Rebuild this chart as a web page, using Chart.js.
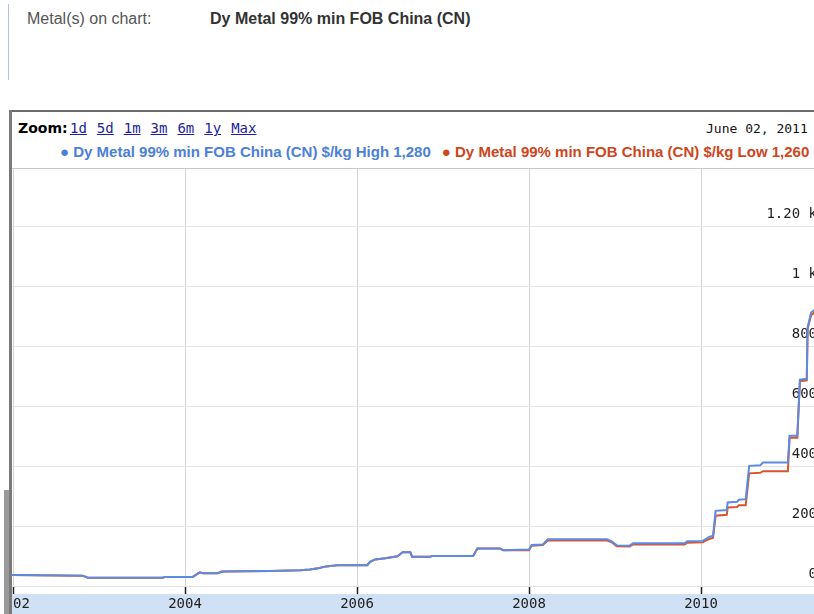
<!DOCTYPE html>
<html>
<head>
<meta charset="utf-8">
<script src="https://cdn.jsdelivr.net/npm/chart.js@4.4.1/dist/chart.umd.min.js"></script>
<style>
html, body { margin: 0; padding: 0; width: 814px; height: 614px; overflow: hidden; background: #fff; font-family: "Liberation Sans", Arial, sans-serif; }
.abs { position: absolute; white-space: nowrap; }
#sideLine { left: 8px; top: 4px; width: 1px; height: 76px; background: #b8c4da; }
#metalLabel { left: 27px; top: 10px; font-size: 16px; color: #555; }
#metalName { left: 210px; top: 10px; font-size: 16px; font-weight: bold; color: #333; }
#boxTop { left: 9px; top: 110px; width: 820px; height: 2px; background: #6a6a6a; }
#boxLeft { left: 9px; top: 110px; width: 3px; height: 504px; background: #7a7a7a; }
#scrollBit { left: 4px; top: 490px; width: 5px; height: 124px; background: #9a9a9a; }
#zoomLabel { left: 18px; top: 120px; font: bold 14px "DejaVu Sans", Verdana, sans-serif; color: #000; }
#zoomLinks { left: 70px; top: 120px; font: 14px "DejaVu Sans Mono", monospace; color: #1d1da0; }
#zoomLinks span { text-decoration: underline; margin-right: 10px; }
#dateLabel { left: 706px; top: 121px; font: 13px "DejaVu Sans Mono", monospace; color: #111; }
#legend { left: 60px; top: 143px; font-size: 15px; font-weight: bold; }
#legend .hi { color: #4b80da; }
#legend .lo { color: #cf4520; margin-left: 11px; }
#sep { left: 12px; top: 168px; width: 810px; height: 1px; background: #c8c8c8; }
#plot { position: absolute; left: 12px; top: 169px; }
</style>
</head>
<body>
<div class="abs" id="sideLine"></div>
<div class="abs" id="metalLabel">Metal(s) on chart:</div>
<div class="abs" id="metalName">Dy Metal 99% min FOB China (CN)</div>
<div class="abs" id="boxTop"></div>
<div class="abs" id="zoomLabel">Zoom:</div>
<div class="abs" id="zoomLinks"><span>1d</span><span>5d</span><span>1m</span><span>3m</span><span>6m</span><span>1y</span><span>Max</span></div>
<div class="abs" id="dateLabel">June 02, 2011</div>
<div class="abs" id="legend"><span class="hi">● Dy Metal 99% min FOB China (CN) $/kg High 1,280</span><span class="lo">● Dy Metal 99% min FOB China (CN) $/kg Low 1,260</span></div>
<div class="abs" id="sep"></div>
<canvas id="plot" width="810" height="445"></canvas>
<div class="abs" id="scrollBit"></div>
<div class="abs" id="boxLeft"></div>
<script>
// decimal years
const dates = [2001.98, 2002.55, 2002.81, 2002.87, 2003.74, 2003.77, 2004.09, 2004.17, 2004.21, 2004.38,
  2004.43, 2004.99, 2005.34, 2005.45, 2005.55, 2005.64, 2005.77, 2006.12, 2006.15, 2006.21,
  2006.33, 2006.47, 2006.53, 2006.62, 2006.64, 2006.85, 2006.88, 2007.35, 2007.40, 2007.66,
  2007.70, 2008.00, 2008.03, 2008.16, 2008.22, 2008.91, 2008.97, 2009.02, 2009.17, 2009.21,
  2009.81, 2009.84, 2010.02, 2010.06, 2010.09, 2010.14, 2010.17, 2010.30, 2010.31, 2010.42,
  2010.44, 2010.52, 2010.56, 2010.69, 2010.72, 2011.01, 2011.03, 2011.12, 2011.15, 2011.23,
  2011.24, 2011.28, 2011.40];

// $/kg
const highValues = [39, 38, 37, 30, 30, 33, 33, 48, 45, 45,
  51, 53, 55, 58, 62, 68, 72, 72, 83, 91,
  95, 102, 115, 115, 100, 100, 103, 103, 128, 128,
  122, 124, 139, 141, 158, 158, 150, 138, 137, 145,
  145, 152, 153, 160, 165, 170, 253, 256, 281, 283,
  290, 292, 403, 405, 414, 414, 503, 503, 690, 693,
  864, 914, 940];

const lowValues = [39, 38, 37, 30, 30, 33, 33, 48, 45, 45,
  51, 53, 55, 58, 62, 68, 72, 72, 83, 91,
  95, 102, 115, 115, 100, 100, 103, 103, 128, 128,
  122, 122, 137, 139, 154, 154, 147, 135, 134, 141,
  141, 147, 148, 155, 158, 163, 237, 240, 264, 266,
  272, 272, 378, 380, 385, 385, 497, 497, 685, 688,
  860, 905, 930];

const yTickValues = [0, 200, 400, 600, 800, 1000, 1200];
const xTickYears = [2002, 2004, 2006, 2008, 2010];

const axisBand = {
  id: 'axisBand',
  beforeDraw(chart) {
    const { ctx, chartArea, width, height } = chart;
    ctx.save();
    ctx.fillStyle = '#d0e1f5';
    ctx.fillRect(0, chartArea.bottom, width, height - chartArea.bottom);
    ctx.restore();
  },
  afterDraw(chart) {
    const { ctx, chartArea } = chart;
    const x = chart.scales.x;
    ctx.save();
    ctx.strokeStyle = '#222';
    ctx.lineWidth = 1.5;
    x.ticks.forEach(t => {
      const px = Math.round(x.getPixelForValue(t.value)) + 0.5;
      ctx.beginPath();
      ctx.moveTo(px, chartArea.bottom - 7);
      ctx.lineTo(px, chartArea.bottom);
      ctx.stroke();
    });
    ctx.restore();
  }
};

const ctx = document.getElementById('plot').getContext('2d');
const chart = new Chart(ctx, {
  type: 'line',
  data: {
    datasets: [{
      label: 'Dy Metal 99% min FOB China (CN) $/kg High',
      data: dates.map((d, i) => ({ x: d, y: highValues[i] })),
      borderColor: '#5b8be2',
      borderWidth: 2,
      pointRadius: 0,
      tension: 0
    }, {
      label: 'Dy Metal 99% min FOB China (CN) $/kg Low',
      data: dates.map((d, i) => ({ x: d, y: lowValues[i] })),
      borderColor: '#d9552c',
      borderWidth: 2,
      pointRadius: 0,
      tension: 0
    }]
  },
  options: {
    responsive: false,
    animation: false,
    layout: { padding: 0 },
    plugins: {
      legend: { display: false },
      tooltip: { enabled: false }
    },
    scales: {
      x: {
        type: 'linear',
        min: 2001.988,
        max: 2011.407,
        afterBuildTicks: s => { s.ticks = xTickYears.map(v => ({ value: v })); },
        afterFit: s => { s.height = 20; s.paddingLeft = 0; s.paddingRight = 0; },
        grid: { color: '#d4d4d4', drawTicks: false },
        border: { display: false },
        ticks: {
          padding: 2,
          maxRotation: 0,
          color: '#222',
          font: { family: 'DejaVu Sans Mono', size: 14 },
          callback: v => String(v)
        }
      },
      y: {
        position: 'right',
        min: -24,
        max: 1392,
        afterBuildTicks: s => { s.ticks = yTickValues.map(v => ({ value: v })); },
        afterFit: s => { s.width = 0; s.paddingTop = 0; s.paddingBottom = 0; },
        grid: { color: '#e4e4e4', drawTicks: false },
        border: { display: false },
        ticks: {
          mirror: true,
          padding: -5,
          labelOffset: -12,
          color: '#222',
          font: { family: 'DejaVu Sans Mono', size: 14 },
          callback: v => v >= 1000 ? (v === 1000 ? '1 k' : (v / 1000).toFixed(2) + ' k') : String(v)
        }
      }
    }
  },
  plugins: [axisBand]
});
</script>
</body>
</html>
